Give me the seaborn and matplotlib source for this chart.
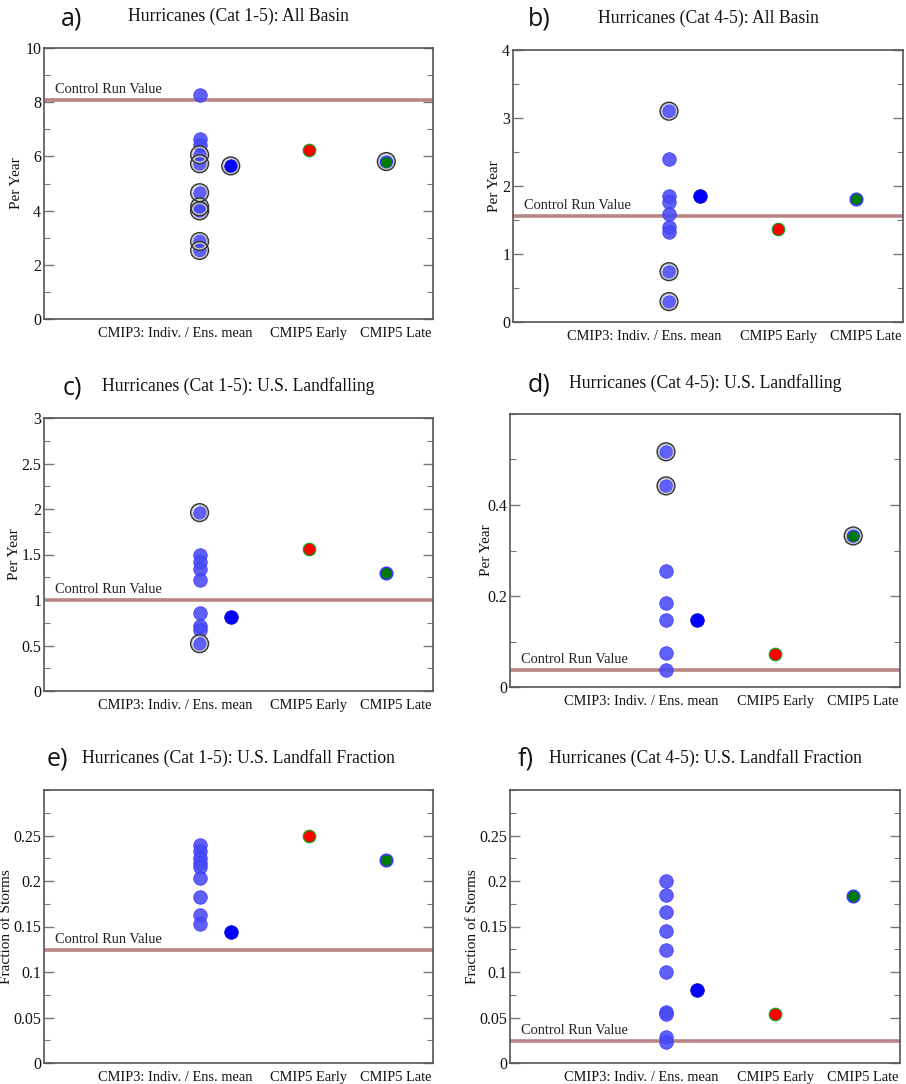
import numpy as np
import pandas as pd
import matplotlib
matplotlib.use("Agg")
import matplotlib.pyplot as plt
import seaborn as sns
from matplotlib.ticker import MultipleLocator, FixedLocator, FuncFormatter

sns.set_theme(style="white")
plt.rcParams['font.family'] = ['Liberation Serif', 'DejaVu Serif']

# ---------------- data ----------------
categories = ["CMIP3: Indiv. / Ens. mean", "CMIP5 Early", "CMIP5 Late"]
panel_letters = ["a)", "b)", "c)", "d)", "e)", "f)"]
titles = ["Hurricanes (Cat 1-5): All Basin",
          "Hurricanes (Cat 4-5): All Basin",
          "Hurricanes (Cat 1-5): U.S. Landfalling",
          "Hurricanes (Cat 4-5): U.S. Landfalling",
          "Hurricanes (Cat 1-5): U.S. Landfall Fraction",
          "Hurricanes (Cat 4-5): U.S. Landfall Fraction"]
ylabels = ["Per Year", "Per Year", "Per Year", "Per Year",
           "Fraction of Storms", "Fraction of Storms"]

# individual CMIP3 model values
a_indiv = [8.28, 6.66, 6.42, 6.06, 5.73, 4.66, 4.14, 3.99, 2.86, 2.53]
b_indiv = [3.10, 2.40, 1.86, 1.77, 1.59, 1.39, 1.33, 0.74, 0.30]
c_indiv = [1.96, 1.49, 1.42, 1.34, 1.22, 0.855, 0.715, 0.67, 0.52]
d_indiv = [0.517, 0.442, 0.256, 0.184, 0.147, 0.074, 0.037]
e_indiv = [0.2395, 0.2329, 0.2255, 0.2200, 0.2156, 0.2028, 0.1823, 0.1625, 0.1522]
f_indiv = [0.1999, 0.1845, 0.1661, 0.1452, 0.1247, 0.1001, 0.0560, 0.0535, 0.0285, 0.0228]

# values marked with an extra black ring
a_ringed = [6.06, 5.73, 4.66, 4.14, 3.99, 2.86, 2.53]
b_ringed = [3.10, 0.74, 0.30]
c_ringed = [1.96, 0.52]
d_ringed = [0.517, 0.442]
e_ringed = []
f_ringed = []

ens_mean = [5.65, 1.85, 0.817, 0.147, 0.144, 0.080]
ens_ringed = [True, False, False, False, False, False]
cmip5_early = [6.22, 1.37, 1.555, 0.073, 0.250, 0.0536]
cmip5_late = [5.81, 1.81, 1.30, 0.332, 0.223, 0.183]
late_ringed = [True, False, False, True, False, False]
control = [8.08, 1.56, 1.00, 0.037, 0.124, 0.0239]

# axis settings
ylims = [(0, 10), (0, 4), (0, 3), (0, 0.6), (0, 0.3), (0, 0.3)]
major_ticks = [[0, 2, 4, 6, 8, 10], [0, 1, 2, 3, 4], [0, 0.5, 1, 1.5, 2, 2.5, 3],
               [0, 0.2, 0.4], [0, 0.05, 0.1, 0.15, 0.2, 0.25], [0, 0.05, 0.1, 0.15, 0.2, 0.25]]
minor_step = [1, 0.5, 0.25, 0.1, 0.025, 0.025]

indiv_all = [a_indiv, b_indiv, c_indiv, d_indiv, e_indiv, f_indiv]
ringed_all = [a_ringed, b_ringed, c_ringed, d_ringed, e_ringed, f_ringed]

# x positions of the groups (axis runs 0..5)
x_indiv, x_ens, x_early, x_late = 2.0, 2.4, 3.4, 4.4
label_pos = [1.68, 3.40, 4.52]

# ---------------- layout ----------------
W, H = 906, 1084
fig = plt.figure(figsize=(W / 100, H / 100), dpi=100)

boxes = [(44, 48, 433, 319), (513, 50, 903, 322),
         (44, 418, 433, 691), (510, 414, 900, 687),
         (44, 790, 433, 1063), (510, 790, 900, 1063)]
title_y = [16, 18, 386, 383, 758, 758]
letter_xy = [(72, 19), (539, 19), (72, 388), (539, 385), (57, 759), (526, 759)]
ylabel_x = [17, 495, 15, 487, 7, 472]

blue_ind = "#4a4af5"
ring_col = "#333333"
ctrl_col = "#b88686"

for i in range(6):
    x0, y0, x1, y1 = boxes[i]
    ax = fig.add_axes([x0 / W, 1 - y1 / H, (x1 - x0) / W, (y1 - y0) / H])

    # control line
    ax.axhline(control[i], color=ctrl_col, lw=2.6, zorder=1)
    ax.annotate("Control Run Value", xy=(0.028, control[i]),
                xycoords=("axes fraction", "data"), xytext=(0, 5),
                textcoords="offset points", va="baseline", ha="left",
                fontsize=10.4, color="#222222")

    df_ind = pd.DataFrame({"x": [x_indiv] * len(indiv_all[i]), "y": indiv_all[i]})
    sns.scatterplot(data=df_ind, x="x", y="y", ax=ax, s=95, color=blue_ind,
                    edgecolor="#3838ff", linewidth=0.6, alpha=0.88, zorder=3)

    df_ens = pd.DataFrame({"x": [x_ens], "y": [ens_mean[i]]})
    sns.scatterplot(data=df_ens, x="x", y="y", ax=ax, s=95, color="#0000ff",
                    edgecolor="#0000cc", linewidth=0.6, zorder=4)

    df_early = pd.DataFrame({"x": [x_early], "y": [cmip5_early[i]]})
    sns.scatterplot(data=df_early, x="x", y="y", ax=ax, s=80, color="#ff0000",
                    edgecolor="#1a9a1a", linewidth=0.9, zorder=4)

    df_late = pd.DataFrame({"x": [x_late], "y": [cmip5_late[i]]})
    sns.scatterplot(data=df_late, x="x", y="y", ax=ax, s=80, color="#007a00",
                    edgecolor="#3a3aff", linewidth=1.2, zorder=4)

    # rings
    rx, ry = [], []
    for v in ringed_all[i]:
        rx.append(x_indiv); ry.append(v)
    if ens_ringed[i]:
        rx.append(x_ens); ry.append(ens_mean[i])
    if late_ringed[i]:
        rx.append(x_late); ry.append(cmip5_late[i])
    if rx:
        df_r = pd.DataFrame({"x": rx, "y": ry})
        sns.scatterplot(data=df_r, x="x", y="y", ax=ax, s=165, facecolor="none",
                        edgecolor=ring_col, linewidth=1.0, zorder=5)
        sns.scatterplot(data=df_r, x="x", y="y", ax=ax, s=122, facecolor="none",
                        edgecolor="#c8c8c8", linewidth=1.2, zorder=4.5)

    ax.set_xlim(0, 5)
    ax.set_ylim(*ylims[i])
    ax.set_xlabel("")
    ax.set_ylabel("")
    ax.set_xticks(label_pos)
    ax.set_xticklabels(categories, fontsize=10.4, color="#111111")
    ax.tick_params(axis="x", length=0, pad=6)

    ax.yaxis.set_major_locator(FixedLocator(major_ticks[i]))
    ax.yaxis.set_minor_locator(MultipleLocator(minor_step[i]))
    ax.yaxis.set_major_formatter(FuncFormatter(lambda v, p: "%g" % round(v, 4)))
    ax.tick_params(axis="y", which="both", direction="in", left=True, right=True,
                   color="#777777", labelsize=11.5, labelcolor="#111111", pad=2)
    ax.tick_params(axis="y", which="major", length=7, width=1.0)
    ax.tick_params(axis="y", which="minor", length=4, width=0.8)

    for sp in ax.spines.values():
        sp.set_color("#555555")
        sp.set_linewidth(1.2)
        sp.set_visible(True)

    # titles, letters, y labels
    fig.text(((x0 + x1) / 2) / W, 1 - title_y[i] / H, titles[i], ha="center",
             va="center", fontsize=12.7, color="#111111")
    lx, ly = letter_xy[i]
    fig.text(lx / W, 1 - ly / H, panel_letters[i], ha="center", va="center",
             fontsize=18, family=["Open Sans", "DejaVu Sans"], color="#111111")
    fig.text(ylabel_x[i] / W, 1 - ((y0 + y1) / 2) / H, ylabels[i], rotation=90,
             ha="center", va="center", fontsize=11, color="#111111")

fig.savefig("out.png", dpi=100, facecolor="white")
